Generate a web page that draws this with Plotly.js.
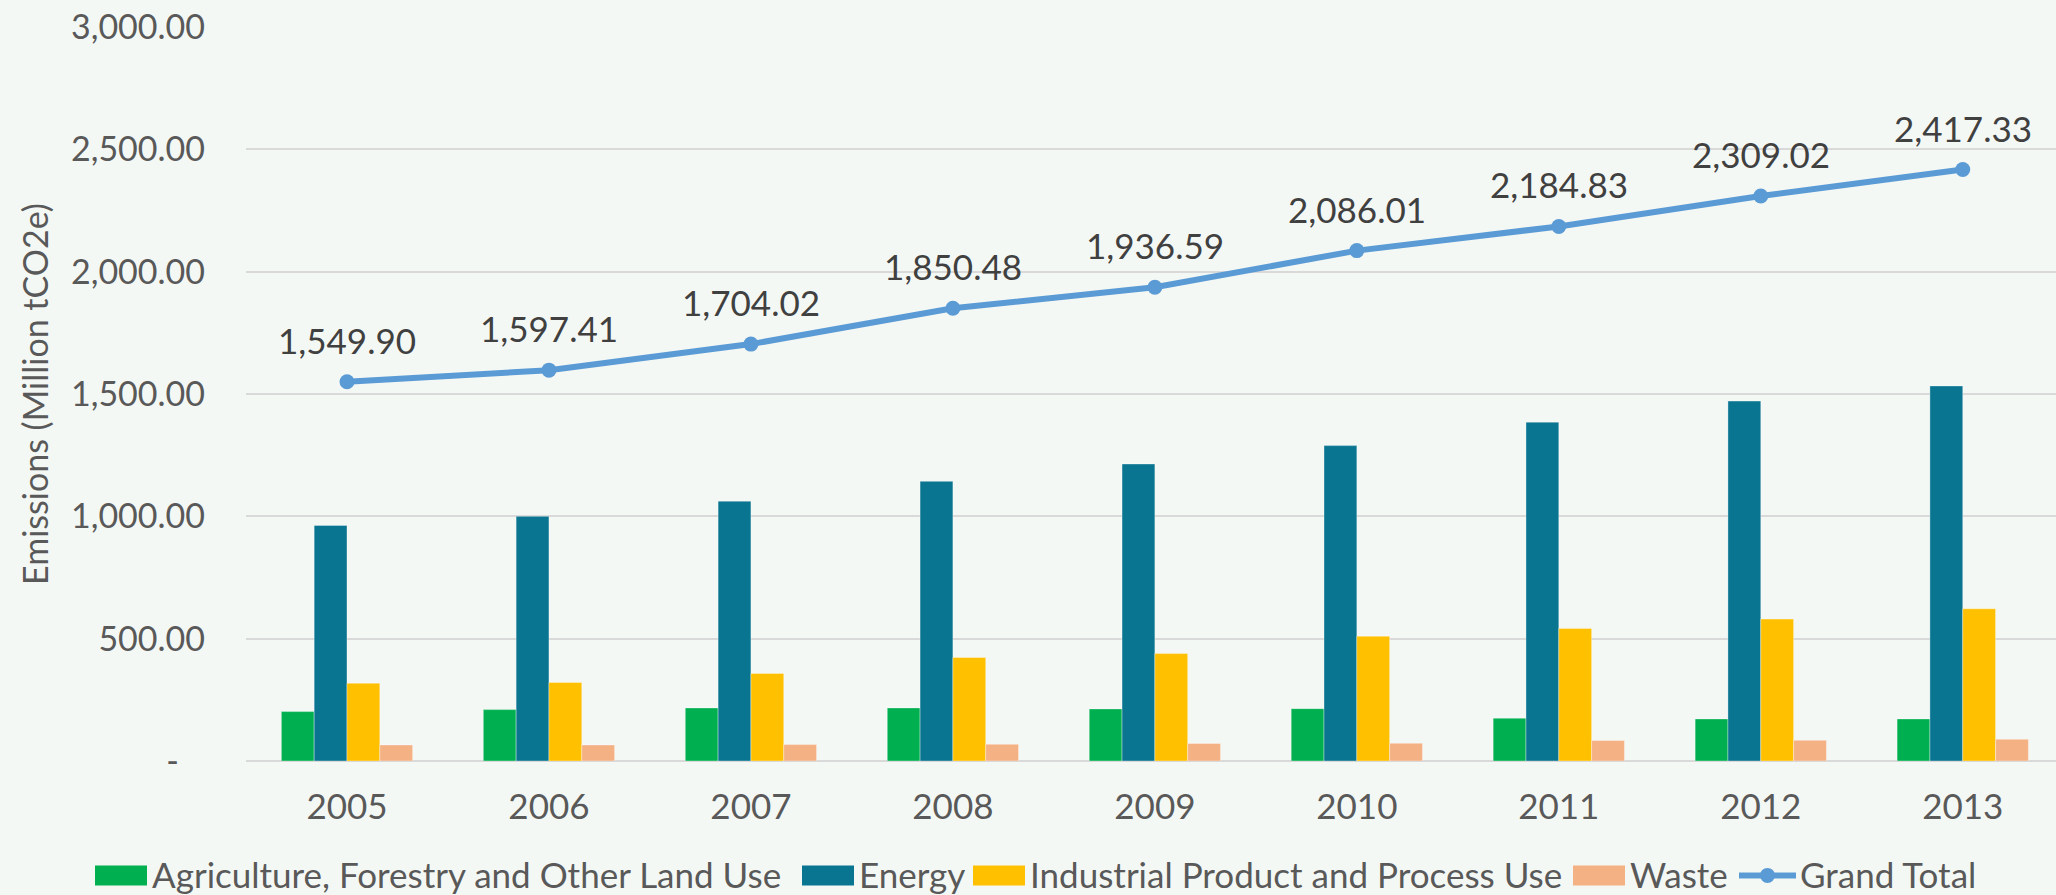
<!DOCTYPE html>
<html>
<head>
<meta charset="utf-8">
<script src="https://cdn.plot.ly/plotly-3.0.1.min.js"></script>
<style>
  html, body { margin: 0; padding: 0; background: #F4F8F5; }
  #chart { width: 2056px; height: 895px; }
</style>
</head>
<body>
<div id="chart"></div>
<script>
// ---- data ----
const years = ['2005', '2006', '2007', '2008', '2009', '2010', '2011', '2012', '2013'];
const afolu = [202, 210, 217, 217, 213, 214, 175, 172, 172];
const energy = [963, 1000, 1062, 1143, 1214, 1289, 1385, 1471, 1533];
const ippu = [318, 321, 358, 423, 439, 510, 542, 580, 622];
const waste = [65.5, 65.5, 67, 68.3, 71.2, 72.4, 84, 84.7, 88.8];
const grandTotal = [1549.90, 1597.41, 1704.02, 1850.48, 1936.59, 2086.01, 2184.83, 2309.02, 2417.33];

const seriesNames = ['Agriculture, Forestry and Other Land Use', 'Energy', 'Industrial Product and Process Use', 'Waste', 'Grand Total'];
const yTickVals = [0, 500, 1000, 1500, 2000, 2500, 3000];
const yTickText = ['-\u00a0\u00a0\u00a0', '500.00', '1,000.00', '1,500.00', '2,000.00', '2,500.00', '3,000.00'];
const yTitle = 'Emissions (Million tCO2e)';

// ---- styles ----
const FONT = 'Lato, "Open Sans", sans-serif';
const colors = ['#00B050', '#0A7591', '#FFC000', '#F4B183', '#5B9BD5'];
const fmt = v => v.toLocaleString('en-US', {minimumFractionDigits: 2, maximumFractionDigits: 2});

// ---- geometry (pixels of the 2056x895 page) ----
const W = 2056, H = 895;
const plotLeft = 246, plotRight = 2056, plotTop = 27.3, plotBottom = 760.7;
const plotW = plotRight - plotLeft, plotH = plotBottom - plotTop;
const catW = 201.97;
const px2x = px => (px - plotLeft) / plotW;      // page px -> paper x
const py2y = py => (plotBottom - py) / plotH;    // page px -> paper y

// legend layout (one row under the axis, like the reference)
const legendMidY = 875;
const swatchW = 52, swatchH = 20;
const legendSwatchLeft = [95, 802, 973, 1573];
const legendTextLeft = [152, 859, 1030, 1630, 1800];
const legendLineX = [1739, 1796];

const barSeries = [afolu, energy, ippu, waste];
const traces = barSeries.map((vals, i) => ({
  type: 'bar',
  name: seriesNames[i],
  x: years,
  y: vals,
  marker: { color: colors[i], line: { color: 'rgba(255,255,255,0.35)', width: 1 } },
  hoverinfo: 'x+y+name'
}));

traces.push({
  type: 'scatter',
  mode: 'lines+markers',
  name: seriesNames[4],
  x: years,
  y: grandTotal,
  line: { color: colors[4], width: 6 },
  marker: { color: colors[4], size: 15 },
  cliponaxis: false
});

// data labels for the Grand Total line, placed through the axes (category index on x)
const annotations = years.map((yr, i) => ({
  x: i,
  y: grandTotal[i],
  xref: 'x',
  yref: 'y',
  text: fmt(grandTotal[i]),
  showarrow: false,
  yshift: 42,
  yanchor: 'middle',
  xanchor: 'center',
  font: { family: FONT, size: 35, color: '#404040' }
}));

// legend: swatches + names
const shapes = [];
legendSwatchLeft.forEach((left, i) => {
  shapes.push({
    type: 'rect', xref: 'paper', yref: 'paper', layer: 'above',
    x0: px2x(left), x1: px2x(left + swatchW),
    y0: py2y(legendMidY + swatchH / 2), y1: py2y(legendMidY - swatchH / 2),
    fillcolor: colors[i], line: { width: 0 }
  });
});
shapes.push({
  type: 'line', xref: 'paper', yref: 'paper', layer: 'above',
  x0: px2x(legendLineX[0]), x1: px2x(legendLineX[1]),
  y0: py2y(legendMidY), y1: py2y(legendMidY),
  line: { color: colors[4], width: 6 }
});
const legendDotX = (legendLineX[0] + legendLineX[1]) / 2;
shapes.push({
  type: 'circle', xref: 'paper', yref: 'paper', layer: 'above',
  x0: px2x(legendDotX - 7.5), x1: px2x(legendDotX + 7.5),
  y0: py2y(legendMidY + 7.5), y1: py2y(legendMidY - 7.5),
  fillcolor: colors[4], line: { width: 0 }
});
seriesNames.forEach((name, i) => {
  annotations.push({
    xref: 'paper', yref: 'paper',
    x: px2x(legendTextLeft[i]), y: py2y(legendMidY - 1),
    xanchor: 'left', yanchor: 'middle',
    text: name, showarrow: false,
    borderpad: 0, borderwidth: 0,
    font: { family: FONT, size: 35, color: '#595959' }
  });
});

const layout = {
  width: W,
  height: H,
  paper_bgcolor: '#F4F8F5',
  plot_bgcolor: '#F4F8F5',
  font: { family: FONT, size: 34, color: '#595959' },
  margin: { l: plotLeft, r: W - plotRight, t: plotTop, b: H - plotBottom, pad: 0, autoexpand: false },
  barmode: 'group',
  bargap: 0.35,
  bargroupgap: 0,
  showlegend: false,
  annotations: annotations,
  shapes: shapes,
  xaxis: {
    type: 'category',
    range: [-0.5, -0.5 + plotW / catW],
    showgrid: false,
    zeroline: false,
    showline: false,
    ticks: '',
    ticklabelstandoff: 22,
    tickfont: { family: FONT, size: 35, color: '#595959' },
    fixedrange: true
  },
  yaxis: {
    range: [0, 3000],
    tickvals: yTickVals,
    ticktext: yTickText,
    showgrid: true,
    gridcolor: '#D9D9D9',
    gridwidth: 2,
    zeroline: true,
    zerolinecolor: '#D9D9D9',
    zerolinewidth: 2,
    showline: false,
    ticks: '',
    ticklabelstandoff: 40,
    tickfont: { family: FONT, size: 34, color: '#595959' },
    title: { text: yTitle, font: { family: FONT, size: 34, color: '#595959' }, standoff: 12 },
    automargin: false,
    fixedrange: true
  }
};

Plotly.newPlot('chart', traces, layout, { displayModeBar: false, responsive: false, staticPlot: true });
</script>
</body>
</html>
